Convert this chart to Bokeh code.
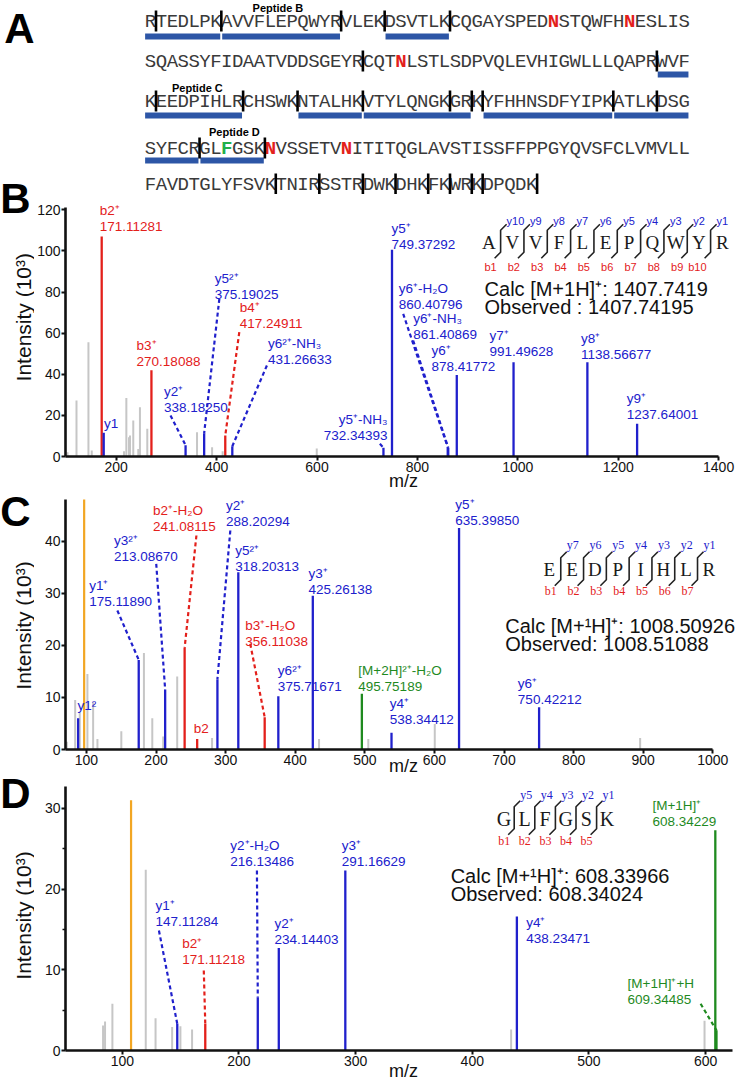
import math
from bokeh.plotting import figure
from bokeh.layouts import column, row
from bokeh.models import Range1d, FixedTicker
from bokeh.core.properties import value
from bokeh.embed import file_html
from bokeh.resources import INLINE

SANS = "Liberation Sans"
SERIF = "Liberation Serif"
MONO = "Liberation Mono"
BLUE = "#2020cc"
RED = "#e3201b"
GREEN = "#1f8a1f"
GRAY = "#c6c6c6"
ORANGE = "#f2a623"
BAR_BLUE = "#2d56a6"
KIND_COLOR = {"y": BLUE, "b": RED, "M": GREEN}

# ---------------- Panel A data ----------------
SEQ_ROWS = [
    "RTEDLPKAVVFLEPQWYRVLEKDSVTLKCQGAYSPEDNSTQWFHNESLIS",
    "SQASSYFIDAATVDDSGEYRCQTNLSTLSDPVQLEVHIGWLLLQAPRWVF",
    "KEEDPIHLRCHSWKNTALHKVTYLQNGKGRKYFHHNSDFYIPKATLKDSG",
    "SYFCRGLFGSKNVSSETVNITITQGLAVSTISSFFPPGYQVSFCLVMVLL",
    "FAVDTGLYFSVKTNIRSSTRDWKDHKFKWRKDPQDK",
]
CUT_SITES = [[1, 7, 18, 22, 28], [20, 47], [1, 9, 14, 20, 28, 30, 31, 43, 47], [5, 11],
             [12, 16, 20, 23, 26, 28, 30, 31, 36]]
PEPTIDE_SPANS = [[(0, 7), (7, 18), (22, 28)], [(47, 50)], [(0, 9), (14, 20), (20, 30), (31, 43), (43, 50)],
                 [(0, 5), (5, 11)], []]
RED_SITES = [(0, 37), (0, 44), (1, 23), (3, 11), (3, 18)]
GREEN_SITES = [(3, 7)]
PEPTIDE_TAGS = ["Peptide B", "Peptide C", "Peptide D"]
PEPTIDE_TAG_COL = [12.2, 4.8, 8.2]
PANEL_LETTERS = ["A", "B", "C", "D"]
Y_TITLE = "Intensity (10³)"
X_TITLE = "m/z"

# ---------------- Panel B data ----------------
B_GRAY_MZ = [103, 120.9, 144.7, 151.3, 215.6, 220.2, 225.5, 227.5, 234, 244, 247.3, 261.9, 361, 391, 412, 599.5]
B_GRAY_INT = [2.1, 27.2, 55.6, 2.9, 2.6, 28.5, 9.4, 10.2, 17.5, 3.7, 24, 13.5, 11.8, 4.5, 2.6, 3.9]
B_ION = ["b2⁺", "y1", "b3⁺", "y2⁺", "y5²⁺", "b4⁺", "y6²⁺-NH₃", "y5⁺-NH₃", "y5⁺", "y6⁺-H₂O",
         "y6⁺-NH₃", "y6⁺", "y7⁺", "y8⁺", "y9⁺"]
B_MZ = [171.11281, 175.119, 270.18088, 338.18250, 375.19025, 417.24911, 431.26633, 732.34393,
        749.37292, 860.40796, 861.40869, 878.41772, 991.49628, 1138.56677, 1237.64001]
B_INT = [107, 11.5, 42, 5.5, 11.3, 10.2, 5, 4.2, 100.5, 4.5, 4.3, 39.7, 45.8, 45.8, 15.9]
B_KIND = ["b", "y", "b", "y", "y", "b", "y", "y", "y", "y", "y", "y", "y", "y", "y"]
B_SHOW_MASS = [True, False] + [True] * 13
B_SEQ = "AVVFLEPQWYR"
B_CALC = ["Calc [M+1H]⁺: 1407.7419", "Observed : 1407.74195"]

# ---------------- Panel C data ----------------
C_GRAY_MZ = [71.8, 83.8, 90.4, 101.4, 109.6, 115.8, 150.1, 182.6, 194.6, 210.3, 230.4, 280.5, 434.2, 505, 600.5, 895.6]
C_GRAY_INT = [1.5, 9.5, 7, 14.5, 9, 2, 3.5, 18.5, 6, 2.5, 14, 2.2, 2, 2, 4.9, 2.2]
C_ORANGE_MZ = [96.7]
C_ORANGE_INT = [48]
C_ION = ["y1²", "y1⁺", "y3²⁺", "b2⁺-H₂O", "b2", "y2⁺", "y5²⁺", "b3⁺-H₂O", "y6²⁺", "y3⁺",
         "[M+2H]²⁺-H₂O", "y4⁺", "y5⁺", "y6⁺"]
C_MZ = [88.06, 175.1189, 213.0867, 241.08115, 259.09, 288.20294, 318.20313, 356.11038, 375.71671,
        425.26138, 495.75189, 538.34412, 635.3985, 750.42212]
C_INT = [6, 17.2, 11.5, 19.5, 2, 13.5, 34, 6.2, 10.2, 29.5, 10.7, 3.2, 42.5, 8.1]
C_KIND = ["y", "y", "y", "b", "b", "y", "y", "b", "y", "y", "M", "y", "y", "y"]
C_SHOW_MASS = [False, True, True, True, False] + [True] * 9
C_SEQ = "EEDPIHLR"
C_CALC = ["Calc [M+¹H]⁺: 1008.50926", "Observed: 1008.51088"]

# ---------------- Panel D data ----------------
D_GRAY_MZ = [83.5, 85.2, 91.5, 120.1, 128.5, 142.7, 149.8, 159.8, 433.3, 599.1]
D_GRAY_INT = [3.1, 3.6, 5.8, 22.4, 4, 2.9, 3, 2.6, 2.6, 3.7]
D_ORANGE_MZ = [107.5]
D_ORANGE_INT = [31]
D_ION = ["y1⁺", "b2⁺", "y2⁺-H₂O", "y2⁺", "y3⁺", "y4⁺", "[M+1H]⁺", "[M+1H]⁺+H"]
D_MZ = [147.11284, 171.11218, 216.13486, 234.14403, 291.16629, 438.23471, 608.34229, 609.34485]
D_INT = [3.3, 3.3, 6.6, 12.7, 22.3, 16.6, 27.3, 2.5]
D_KIND = ["y", "b", "y", "y", "y", "y", "M", "M"]
D_SHOW_MASS = [True] * 8
D_SEQ = "GLFGSK"
D_CALC = ["Calc [M+¹H]⁺: 608.33966", "Observed: 608.34024"]

# ---------------- layout (page pixels) ----------------
LW = 34          # left strip for panel letters and y titles
RW = 709         # right column width
FL = 63          # page x of spectrum frame left
CUTS = [0, 194, 495, 780, 1085]   # vertical partition of the page
LETTER_POS = [(19, 27.5), (15, 198), (15, 511), (15, 793)]
YTITLE_POS = [(22.5, 316.7), (22.5, 625), (22.5, 915)]

B_LAB = [(97.3, 210, "left"), (101.7, 422.7, "left"), (134.3, 345, "left"), (161.7, 390.7, "left"),
         (212.7, 278.3, "left"), (237.7, 307.3, "left"), (266, 343.3, "left"), (386, 419.3, "right"),
         (390, 228.3, "left"), (397.3, 288.3, "left"), (411.7, 318.3, "left"), (430, 350, "left"),
         (488.3, 335, "left"), (580, 338.3, "left"), (626, 398.3, "left")]
B_LEAD = [(3, 168.3, 415), (4, 217.3, 298.3), (5, 237.3, 331.7), (6, 265, 365), (7, 378.3, 443.3),
          (9, 401.7, 313.3), (10, 411.7, 340)]
C_LAB = [(75, 705, "left"), (86.7, 585, "left"), (111.7, 540, "left"), (150.7, 510, "left"),
         (191.7, 728.3, "left"), (224, 505, "left"), (233.3, 550, "left"), (243.3, 625, "left"),
         (276, 670, "left"), (306.7, 572.7, "left"), (356.7, 670, "left"), (388.3, 703.3, "left"),
         (454, 504, "left"), (516.7, 683.3, "left")]
C_LEAD = [(1, 115, 610), (2, 154, 563.3), (3, 194.3, 535), (5, 228.3, 530), (7, 248.3, 643.3)]
D_LAB = [(153.3, 905, "left"), (180, 943.3, "left"), (228.3, 845, "left"), (272.7, 923.3, "left"),
         (340, 845, "left"), (525, 921.7, "left"), (651.7, 805, "left"), (626.7, 982.7, "left")]
D_LEAD = [(0, 156.7, 930), (1, 201.7, 970), (2, 255, 870), (7, 700, 1003.3)]

# ---------------- left strip: panel letters + y titles ----------------
TOTAL_H = CUTS[-1]
pl = figure(width=LW, height=TOTAL_H, output_backend="svg", toolbar_location=None, title=None,
            x_range=Range1d(0, LW), y_range=Range1d(TOTAL_H, 0), x_axis_type=None, y_axis_type=None,
            min_border=0)
pl.outline_line_color = None
pl.text(x=[p[0] for p in LETTER_POS], y=[p[1] for p in LETTER_POS], text=PANEL_LETTERS,
        text_font=value(SANS), text_font_size="42px", text_font_style="bold", text_color="black",
        text_align="center", text_baseline="middle")
pl.text(x=[p[0] for p in YTITLE_POS], y=[p[1] for p in YTITLE_POS], text=[Y_TITLE] * 3,
        text_font=value(SANS), text_font_size="21px", text_color="#111111", angle=math.pi / 2,
        text_align="center", text_baseline="middle")

# ---------------- Panel A ----------------
CH0, CW = 117.5, 11.42
ROW_Y = [21, 61, 101, 148, 184]
BAR_Y = [36, 74, 115, 160, 0]
TAG_Y = [7, 87, 131]
A_TOP, A_BOT = CUTS[0], CUTS[1]

pa = figure(width=RW, height=A_BOT - A_TOP, output_backend="svg", toolbar_location=None, title=None,
            x_range=Range1d((LW - CH0) / CW, (LW + RW - CH0) / CW), y_range=Range1d(A_BOT, A_TOP),
            x_axis_type=None, y_axis_type=None, min_border=0)
pa.outline_line_color = None

nx, ny, nt, bx, by, bt, bc = [], [], [], [], [], [], []
red = set(RED_SITES)
green = set(GREEN_SITES)
for r, rowtxt in enumerate(SEQ_ROWS):
    for i, ch in enumerate(rowtxt):
        if (r, i) in red or (r, i) in green:
            bx.append(i + 0.5); by.append(ROW_Y[r]); bt.append(ch)
            bc.append(RED if (r, i) in red else "#22b04a")
        else:
            nx.append(i + 0.5); ny.append(ROW_Y[r]); nt.append(ch)
pa.text(x=nx, y=ny, text=nt, text_font=value(MONO), text_font_size="19px", text_color="#3a3a3a",
        text_align="center", text_baseline="middle")
pa.text(x=bx, y=by, text=bt, text_font=value(MONO), text_font_size="19px", text_color=bc,
        text_font_style="bold", text_align="center", text_baseline="middle")

qx0, qx1, qy0, qy1 = [], [], [], []
for r, spans in enumerate(PEPTIDE_SPANS):
    for s, e in spans:
        qx0.append(s + (0.0 if s == 0 else 0.08)); qx1.append(e - 0.1)
        qy0.append(BAR_Y[r] - 3); qy1.append(BAR_Y[r] + 3)
pa.quad(left=qx0, right=qx1, bottom=qy1, top=qy0, fill_color=BAR_BLUE, line_color=None)

sx0, sy0, sy1 = [], [], []
for r, cuts in enumerate(CUT_SITES):
    for c in cuts:
        sx0.append(c); sy0.append(ROW_Y[r] - 11); sy1.append(ROW_Y[r] + 10)
pa.segment(x0=sx0, y0=sy0, x1=sx0, y1=sy1, line_color="black", line_width=2.6)

pa.text(x=PEPTIDE_TAG_COL, y=TAG_Y, text=PEPTIDE_TAGS, text_font=value(SANS), text_font_size="11px",
        text_font_style="bold", text_color="black", text_align="center", text_baseline="middle")


# ---------------- spectrum panels ----------------
def make_panel(top, bot, ftop, fbot, x0, sx, sy, xbound, ybound, xticks, yticks, yminor):
    fw = RW - (FL - LW) - 2
    p = figure(width=RW, height=bot - top, output_backend="svg", toolbar_location=None, title=None,
               x_range=Range1d(x0, x0 + fw / sx), y_range=Range1d(0, (fbot - ftop) / sy),
               min_border_left=FL - LW, min_border_right=2, min_border_top=ftop - top,
               min_border_bottom=bot - fbot)
    p.outline_line_color = None
    p.grid.visible = False
    xa, ya = p.xaxis[0], p.yaxis[0]
    xa.ticker = FixedTicker(ticks=xticks)
    ya.ticker = FixedTicker(ticks=yticks, minor_ticks=yminor)
    xa.bounds = (x0, xbound)
    ya.bounds = (0, ybound)
    for ax in (xa, ya):
        ax.axis_line_width = 2.6
        ax.axis_line_color = "#111111"
        ax.major_tick_line_width = 2
        ax.major_tick_line_color = "#111111"
        ax.major_tick_out = 4
        ax.major_tick_in = 0
        ax.minor_tick_out = 3
        ax.minor_tick_in = 0
        ax.minor_tick_line_width = 1.5
        ax.minor_tick_line_color = "#111111" if (ax is ya and yminor) else None
        ax.major_label_text_font = SANS
        ax.major_label_text_font_size = "14px"
        ax.major_label_text_color = "#111111"
        ax.major_label_standoff = 1
    xa.axis_label = X_TITLE
    xa.axis_label_text_font = SANS
    xa.axis_label_text_font_size = "18px"
    xa.axis_label_text_font_style = "normal"
    xa.axis_label_text_color = "#111111"
    xa.axis_label_standoff = (bot - fbot) - 43

    def conv(xp, yp):
        return x0 + (xp - FL) / sx, (fbot - yp) / sy
    return p, conv


def draw_spectrum(p, conv, gray_mz, gray_int, orange_mz, orange_int, names, mz, inten, kind, show_mass,
                  labs, leads):
    p.segment(x0=gray_mz, y0=[0] * len(gray_mz), x1=gray_mz, y1=gray_int, line_color=GRAY, line_width=2)
    if orange_mz:
        p.segment(x0=orange_mz, y0=[0] * len(orange_mz), x1=orange_mz, y1=orange_int,
                  line_color=ORANGE, line_width=2.2)
    cols = [KIND_COLOR[k] for k in kind]
    p.segment(x0=mz, y0=[0] * len(mz), x1=mz, y1=inten, line_color=cols, line_width=2.3)
    lx0, ly0, lx1, ly1, lc = [], [], [], [], []
    for idx, xp, yp in leads:
        a, b = conv(xp, yp)
        lx0.append(a); ly0.append(b); lx1.append(mz[idx]); ly1.append(inten[idx]); lc.append(cols[idx])
    p.segment(x0=lx0, y0=ly0, x1=lx1, y1=ly1, line_color=lc, line_width=2.2, line_dash="4 3")
    for align in ("left", "right"):
        tx, ty, tt, tc = [], [], [], []
        for i, (xp, yp, al) in enumerate(labs):
            if al != align:
                continue
            a, b = conv(xp, yp)
            tx.append(a); ty.append(b); tt.append(names[i]); tc.append(cols[i])
            if show_mass[i]:
                a2, b2 = conv(xp, yp + 16)
                tx.append(a2); ty.append(b2); tt.append("%.5f" % mz[i]); tc.append(cols[i])
        if tx:
            p.text(x=tx, y=ty, text=tt, text_color=tc, text_font=value(SANS), text_font_size="13.5px",
                   text_align=align, text_baseline="middle")


def draw_inset(p, conv, seq, x0, dx, yc, res_font, res_size, lab_font, lab_size, y_dy, b_dy):
    n = len(seq)
    pts = [conv(x0 + i * dx, yc) for i in range(n)]
    p.text(x=[q[0] for q in pts], y=[q[1] for q in pts], text=list(seq), text_font=value(res_font),
           text_font_size=res_size, text_color="#1a1a1a", text_align="center", text_baseline="middle")
    xs, ys, yx, yy, yt, bxs, bys, bts = [], [], [], [], [], [], [], []
    for i in range(n - 1):
        bxp = x0 + (i + 0.5) * dx
        poly = [(bxp + 6, yc - 18), (bxp, yc - 12), (bxp, yc + 10), (bxp - 6, yc + 16)]
        c = [conv(a, b) for a, b in poly]
        xs.append([q[0] for q in c]); ys.append([q[1] for q in c])
        a, b = conv(bxp + 6, yc + y_dy)
        yx.append(a); yy.append(b); yt.append("y%d" % (n - 1 - i))
        a, b = conv(bxp - 4, yc + b_dy)
        bxs.append(a); bys.append(b); bts.append("b%d" % (i + 1))
    p.multi_line(xs=xs, ys=ys, line_color="#222222", line_width=1.6)
    p.text(x=yx, y=yy, text=yt, text_font=value(lab_font), text_font_size=lab_size, text_color=BLUE,
           text_align="left", text_baseline="middle")
    p.text(x=bxs, y=bys, text=bts, text_font=value(lab_font), text_font_size=lab_size, text_color=RED,
           text_align="right", text_baseline="middle")


def draw_calc(p, conv, lines, xp, yp1, yp2):
    a1, b1 = conv(xp, yp1)
    a2, b2 = conv(xp, yp2)
    p.text(x=[a1, a2], y=[b1, b2], text=lines, text_font=value(SANS), text_font_size="20px",
           text_color="#111111", text_align="left", text_baseline="middle")


# Panel B
pb, cb = make_panel(CUTS[1], CUTS[2], 196, 456, 99.0, 0.5035, 2.056, 1400, 121,
                    [200, 400, 600, 800, 1000, 1200, 1400], [0, 20, 40, 60, 80, 100, 120], [])
draw_spectrum(pb, cb, B_GRAY_MZ, B_GRAY_INT, [], [], B_ION, B_MZ, B_INT, B_KIND, B_SHOW_MASS, B_LAB, B_LEAD)
draw_inset(pb, cb, B_SEQ, 487.7, 23.4, 241.7, SERIF, "19px", SANS, "11px", -21.7, 25)
draw_calc(pb, cb, B_CALC, 483.3, 288.3, 306)

# Panel C
pc, cc = make_panel(CUTS[2], CUTS[3], 495, 749, 69.9, 0.698, 5.21, 1000, 48,
                    [100, 200, 300, 400, 500, 600, 700, 800, 900, 1000], [0, 10, 20, 30, 40], [])
draw_spectrum(pc, cc, C_GRAY_MZ, C_GRAY_INT, C_ORANGE_MZ, C_ORANGE_INT, C_ION, C_MZ, C_INT, C_KIND,
              C_SHOW_MASS, C_LAB, C_LEAD)
draw_inset(pc, cc, C_SEQ, 548.3, 22.86, 569.3, SERIF, "19px", SERIF, "12px", -25.3, 21.4)
draw_calc(pc, cc, C_CALC, 504, 625, 643.3)

# Panel D
pd_, cd = make_panel(CUTS[3], CUTS[4], 783, 1050, 51.3, 1.17, 8.07, 622.8, 32.7,
                     [100, 200, 300, 400, 500, 600], [0, 10, 20, 30], [5, 15, 25])
draw_spectrum(pd_, cd, D_GRAY_MZ, D_GRAY_INT, D_ORANGE_MZ, D_ORANGE_INT, D_ION, D_MZ, D_INT, D_KIND,
              D_SHOW_MASS, D_LAB, D_LEAD)
draw_inset(pd_, cd, D_SEQ, 502.7, 20.66, 818.3, SERIF, "20px", SERIF, "12px", -24.3, 22.4)
draw_calc(pd_, cd, D_CALC, 449.3, 875, 893.3)

layout = row(pl, column(pa, pb, pc, pd_))
open("out.html", "w").write(file_html(layout, INLINE, title="Peptide MS/MS spectra"))
